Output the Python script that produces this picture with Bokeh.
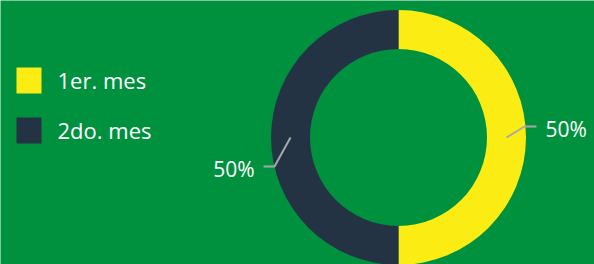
import numpy as np
from bokeh.plotting import figure
from bokeh.models import Range1d, ColumnDataSource
from bokeh.core.properties import value
from bokeh.embed import file_html
from bokeh.resources import INLINE

# ---- data ----
labels = ["1er. mes", "2do. mes"]
values = [50, 50]
colors = ["#FBEC13", "#243343"]

BG = "#00913F"
FONT = "Open Sans"
W, H = 594, 264

vals = np.array(values, dtype=float)
frac = vals / vals.sum()
cum = np.concatenate([[0], np.cumsum(frac)])
# clockwise from the top
start = np.pi / 2 - cum[:-1] * 2 * np.pi
end = np.pi / 2 - cum[1:] * 2 * np.pi
mid = (start + end) / 2
pct = [f"{round(f * 100)}%" for f in frac]

cx, cy = 398, H - 137
R_out, R_in = 127.5, 88.5

p = figure(width=W, height=H, output_backend="svg", toolbar_location=None,
           x_range=Range1d(0, W), y_range=Range1d(0, H), min_border=0,
           background_fill_color=BG, border_fill_color=BG, outline_line_color=None)
p.axis.visible = False
p.grid.visible = False

src = ColumnDataSource(dict(start=start, end=end, color=colors, label=labels))
p.annular_wedge(x=cx, y=cy, inner_radius=R_in, outer_radius=R_out,
                inner_radius_units="screen", outer_radius_units="screen",
                start_angle="start", end_angle="end", direction="clock",
                fill_color="color", line_color=None, source=src)

# leader lines and percentage labels
r_mid = (R_in + R_out) / 2
for m, t in zip(mid, pct):
    x0 = cx + r_mid * np.cos(m)
    y0 = cy + r_mid * np.sin(m)
    right = np.cos(m) >= 0
    if right:
        xs = [x0, x0 + 18, x0 + 30]
        ys = [y0, y0 + 11, y0 + 11]
        p.text(x=[x0 + 39], y=[y0 + 9], text=[t], text_color="white",
               text_font=value(FONT), text_font_size="21px",
               text_align="left", text_baseline="middle")
    else:
        xs = [x0, x0 - 16, x0 - 27]
        ys = [y0, y0 - 29, y0 - 29]
        p.text(x=[x0 - 36], y=[y0 - 31], text=[t], text_color="white",
               text_font=value(FONT), text_font_size="21px",
               text_align="right", text_baseline="middle")
    p.line(x=xs, y=ys, line_color="#A8A8A8", line_width=2)

# legend
ly = [H - 80, H - 130]
p.rect(x=[28.5] * len(labels), y=ly, width=25, height=26,
       width_units="screen", height_units="screen",
       fill_color=colors, line_color=None)
p.text(x=[57] * len(labels), y=[v + 1 for v in ly], text=labels, text_color="white",
       text_font=value(FONT), text_font_size="22px",
       text_align="left", text_baseline="middle")

open("out.html", "w").write(file_html(p, INLINE))
